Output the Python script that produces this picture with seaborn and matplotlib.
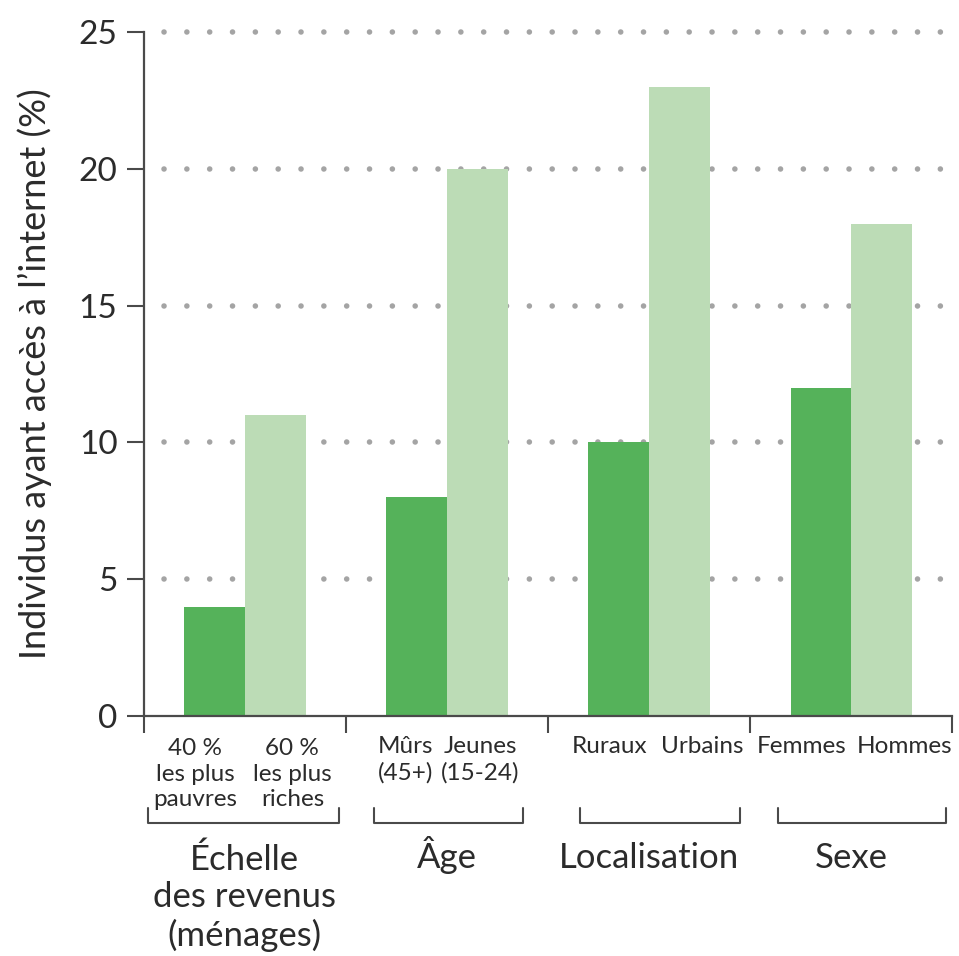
import pandas as pd
import seaborn as sns
import matplotlib.pyplot as plt
import matplotlib.transforms as mtransforms

# Data
groups = ["Échelle\ndes revenus\n(ménages)", "Âge", "Localisation", "Sexe"]
low_labels = ["40 %\nles plus\npauvres", "Mûrs\n(45+)", "Ruraux", "Femmes"]
high_labels = ["60 %\nles plus\nriches", "Jeunes\n(15-24)", "Urbains", "Hommes"]
low_values = [4, 8, 10, 12]
high_values = [11, 20, 23, 18]

# Layout tweaks for the annotation texts (offsets from group centre)
low_offsets = [-0.245, -0.205, -0.195, -0.245]
high_offsets = [0.235, 0.165, 0.265, 0.265]
bracket_spans = [(-0.48, 0.465), (-0.36, 0.375), (-0.34, 0.45), (-0.36, 0.47)]

dark_green = "#55b25a"
light_green = "#bcdcb6"
text_col = "#2b2b2b"
axis_col = "#4a4a4a"

df = pd.DataFrame({
    "group": groups * 2,
    "level": ["low"] * 4 + ["high"] * 4,
    "value": low_values + high_values,
})

sns.set_theme(style="white")
plt.rcParams["font.family"] = ["Lato", "DejaVu Sans"]

fig = plt.figure(figsize=(9.59, 9.56), dpi=100)
ax = fig.add_axes([0.150, 0.251, 0.843, 0.7155])

sns.barplot(data=df, x="group", y="value", hue="level", order=groups,
            hue_order=["low", "high"], palette=[dark_green, light_green],
            width=0.6, saturation=1, legend=False, ax=ax, zorder=2,
            linewidth=0, edgecolor="none")

ax.set_xlim(-0.5, 3.5)
ax.set_ylim(0, 25)
ax.set_yticks([0, 5, 10, 15, 20, 25])

# dotted grid lines
for y in [5, 10, 15, 20, 25]:
    ax.plot([0.025, 1.005], [y, y], transform=ax.get_yaxis_transform(),
            color="#a4a4a4", lw=4.0, linestyle=(0, (0.01, 4.1)),
            dash_capstyle="round", zorder=0, clip_on=False)

sns.despine(ax=ax)
for side in ["left", "bottom"]:
    ax.spines[side].set_color(axis_col)
    ax.spines[side].set_linewidth(1.6)

ax.set_xticks([-0.5, 0.5, 1.5, 2.5, 3.5])
ax.set_xticklabels([])
ax.tick_params(axis="x", direction="out", length=12, width=1.5, color=axis_col, bottom=True)
ax.tick_params(axis="y", direction="out", length=12, width=1.5, color=axis_col, left=True,
               labelsize=24, labelcolor=text_col, pad=7)
ax.set_xlabel("")
ax.set_ylabel("Individus ayant accès à l\u2019internet (%)", fontsize=26,
              color=text_col, labelpad=19)

trans = mtransforms.blended_transform_factory(ax.transData, ax.transAxes)
sub_step = 0.0387    # distance between text lines, axes fraction
grp_step = 0.057


def baseline_y(first, text, step):
    # baseline alignment refers to the last line of a multi-line text
    return first - step * text.count("\n")


for i in range(len(groups)):
    for off, lab in [(low_offsets[i], low_labels[i]), (high_offsets[i], high_labels[i])]:
        ax.text(i + off, baseline_y(-0.054, lab, sub_step), lab, transform=trans,
                ha="center", va="baseline", fontsize=17.5, color=text_col,
                linespacing=1.26)
    x0, x1 = bracket_spans[i]
    ax.plot([i + x0, i + x0, i + x1, i + x1], [-0.135, -0.157, -0.157, -0.135],
            transform=trans, color=axis_col, lw=1.5, clip_on=False)
    ax.text(i, baseline_y(-0.222, groups[i], grp_step), groups[i], transform=trans,
            ha="center", va="baseline", fontsize=25, color=text_col, linespacing=1.2)

fig.savefig("out.png", dpi=100)
